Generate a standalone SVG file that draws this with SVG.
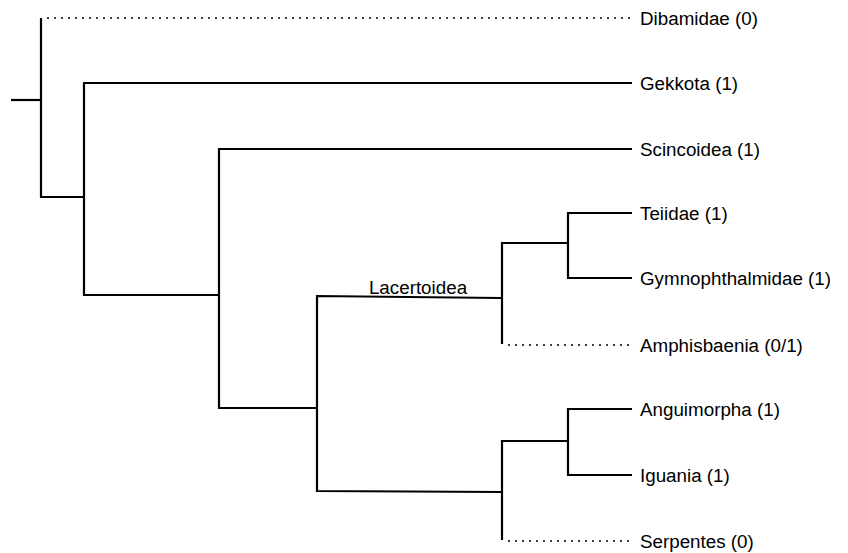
<svg xmlns="http://www.w3.org/2000/svg" width="848" height="553" viewBox="0 0 848 553">
<style>
.br{fill:none;stroke:#000;stroke-width:2.2;stroke-linejoin:miter;stroke-linecap:butt}
.dot{fill:none;stroke:#000;stroke-width:2;stroke-linecap:round;stroke-dasharray:0 7}
text{font-family:"Liberation Sans",Arial,sans-serif;font-size:18.8px;fill:#000}
</style>
<rect width="848" height="553" fill="#fff"/>
<g id="connectors">
<line class="br" x1="11" y1="100" x2="41" y2="100"/>
<polyline class="br" points="41,18 41,197 84,197"/>
<line class="dot" x1="48" y1="18" x2="630" y2="18"/>
<polyline class="br" points="632,83 84,83 84,295 219,295"/>
<polyline class="br" points="632,149 219,149 219,408 317,408"/>
<polyline class="br" points="501,298 317,296 317,491 502,492"/>
<polyline class="br" points="567,243 502,243 502,344"/>
<line class="dot" x1="509" y1="345" x2="630" y2="345"/>
<polyline class="br" points="632,213 568,213 568,278 632,278"/>
<polyline class="br" points="567,441 502,441 502,540"/>
<line class="dot" x1="509" y1="541" x2="630" y2="541"/>
<polyline class="br" points="632,409 568,409 568,475 632,475"/>
</g>
<g id="lacertoidea"><text x="418" y="294" text-anchor="middle">Lacertoidea</text></g>
<g id="dibamidae"><text x="640" y="25">Dibamidae (0)</text></g>
<g id="gekkota"><text x="640" y="90">Gekkota (1)</text></g>
<g id="scincoidea"><text x="640" y="156">Scincoidea (1)</text></g>
<g id="teiidae"><text x="640" y="220">Teiidae (1)</text></g>
<g id="gymnophthalmidae"><text x="640" y="285">Gymnophthalmidae (1)</text></g>
<g id="amphisbaenia"><text x="640" y="352">Amphisbaenia (0/1)</text></g>
<g id="anguimorpha"><text x="640" y="416">Anguimorpha (1)</text></g>
<g id="iguania"><text x="640" y="482">Iguania (1)</text></g>
<g id="serpentes"><text x="640" y="548">Serpentes (0)</text></g>
</svg>
